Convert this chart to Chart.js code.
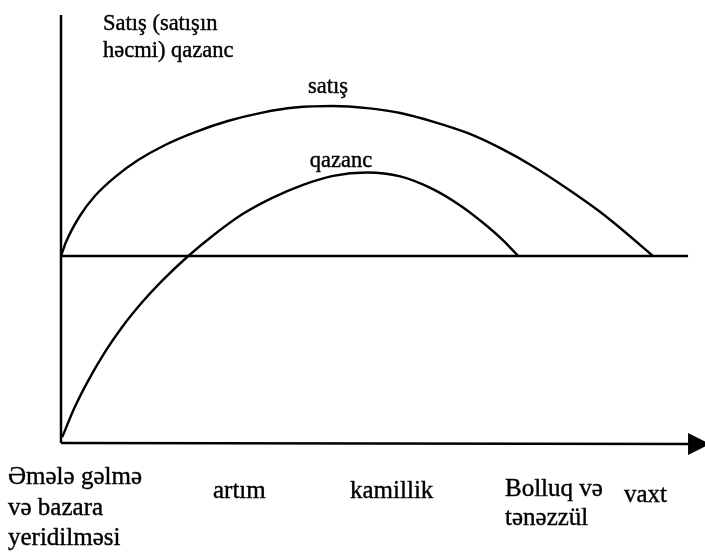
<!DOCTYPE html>
<html><head><meta charset="utf-8">
<script src="https://cdn.jsdelivr.net/npm/chart.js@4"></script>
<style>html,body{margin:0;padding:0;background:#fff}#wrap{width:705px;height:554px}</style>
</head><body><div id="wrap"><canvas id="c" width="705" height="554"></canvas></div>
<script>
// time axis (0..100) and value axis units (0 = break-even line)
const salesX  = [0, 0.8, 3.0, 5.4, 8.6, 12.3, 16.6, 21.4, 26.6, 32.1, 37.3, 43.4, 48.8, 54.1, 59.3, 64.8, 70.0, 75.3, 80.7, 86.0, 90.3, 94.4];
const salesY  = [0, 7.5, 21.4, 32.1, 42.2, 51.3, 59.4, 66.3, 72.2, 76.7, 79.4, 80.2, 79.1, 76.5, 71.9, 65.8, 57.8, 47.9, 36.1, 23.5, 11.8, 0];
const profitX = [0.2, 2.2, 4.3, 7.0, 9.7, 12.9, 16.1, 20.3, 24.6, 28.9, 33.7, 38.6, 43.4, 48.8, 54.1, 59.3, 63.6, 67.3, 70.5, 72.9];
const profitY = [-96.8, -80.8, -66.9, -51.4, -38.2, -24.9, -13.3, 0, 11.9, 22.3, 31.1, 38.1, 42.9, 44.7, 42.6, 35.8, 27.2, 17.8, 8.4, 0];
const baseX   = [0, 100];
const baseY   = [0, 0];
const seriesNames = ['satış', 'qazanc'];
const axisTitle = ['Satış (satışın', 'həcmi) qazanc'];
const stageLabels = [['Əmələ gəlmə', 'və bazara', 'yeridilməsi'], ['artım'], ['kamillik'], ['Bolluq və', 'tənəzzül']];
const timeLabel = 'vaxt';

const pts = (xs, ys) => xs.map((x, i) => ({x: x, y: ys[i]}));
const INK = '#000';
const FONT = '"Liberation Serif", "Times New Roman", serif';

function txt(ctx, t, x, y) {
  ctx.fillText(t, x, y);
  ctx.strokeText(t, x, y);
}

const decor = {
  id: 'decor',
  afterDatasetsDraw(chart) {
    const ctx = chart.ctx;
    const xs = chart.scales.x, ys = chart.scales.y;
    const x0 = xs.getPixelForValue(0);
    const yb = ys.getPixelForValue(-100);
    const xe = xs.getPixelForValue(100);
    ctx.save();
    ctx.strokeStyle = INK; ctx.fillStyle = INK; ctx.lineWidth = 2.5;
    // vertical axis
    ctx.beginPath(); ctx.moveTo(x0, ys.top); ctx.lineTo(x0, yb); ctx.stroke();
    // horizontal axis with arrow
    ctx.beginPath(); ctx.moveTo(x0, yb); ctx.lineTo(xe + 2, yb + 1); ctx.stroke();
    ctx.beginPath(); ctx.moveTo(xe, yb - 10); ctx.lineTo(xe + 22, yb + 1); ctx.lineTo(xe, yb + 12); ctx.closePath(); ctx.fill();

    ctx.textBaseline = 'alphabetic';
    ctx.lineWidth = 0.4; ctx.lineJoin = 'round';
    // axis title
    ctx.font = '22.5px ' + FONT; ctx.textAlign = 'left';
    txt(ctx, axisTitle[0], 103, 30);
    txt(ctx, axisTitle[1], 103, 57);
    // series labels
    ctx.textAlign = 'center';
    txt(ctx, seriesNames[0], 328, 93);
    txt(ctx, seriesNames[1], 341, 167);
    // stage labels
    ctx.font = '25px ' + FONT; ctx.textAlign = 'left';
    const pos = [[8, 484, 30.5], [213, 498, 0], [350, 498, 0], [505, 496, 29]];
    stageLabels.forEach((lines, i) => {
      lines.forEach((t, j) => txt(ctx, t, pos[i][0], pos[i][1] + j * pos[i][2]));
    });
    txt(ctx, timeLabel, 624, 502);
    ctx.restore();
  }
};

new Chart(document.getElementById('c'), {
  type: 'line',
  data: {
    datasets: [
      {label: seriesNames[0], data: pts(salesX, salesY), cubicInterpolationMode: 'monotone'},
      {label: seriesNames[1], data: pts(profitX, profitY), cubicInterpolationMode: 'monotone'},
      {label: 'base', data: pts(baseX, baseY), tension: 0}
    ]
  },
  options: {
    responsive: false, animation: false, devicePixelRatio: 1,
    layout: {padding: {left: 61, top: 15, right: 5, bottom: 111}},
    elements: {
      point: {radius: 0, hoverRadius: 0},
      line: {borderColor: INK, borderWidth: 2.4, fill: false}
    },
    scales: {
      x: {type: 'linear', min: 0, max: 101.9, display: false},
      y: {type: 'linear', min: -100, max: 128.9, display: false}
    },
    plugins: {legend: {display: false}, tooltip: {enabled: false}, title: {display: false}}
  },
  plugins: [decor]
});
</script>
</body></html>
